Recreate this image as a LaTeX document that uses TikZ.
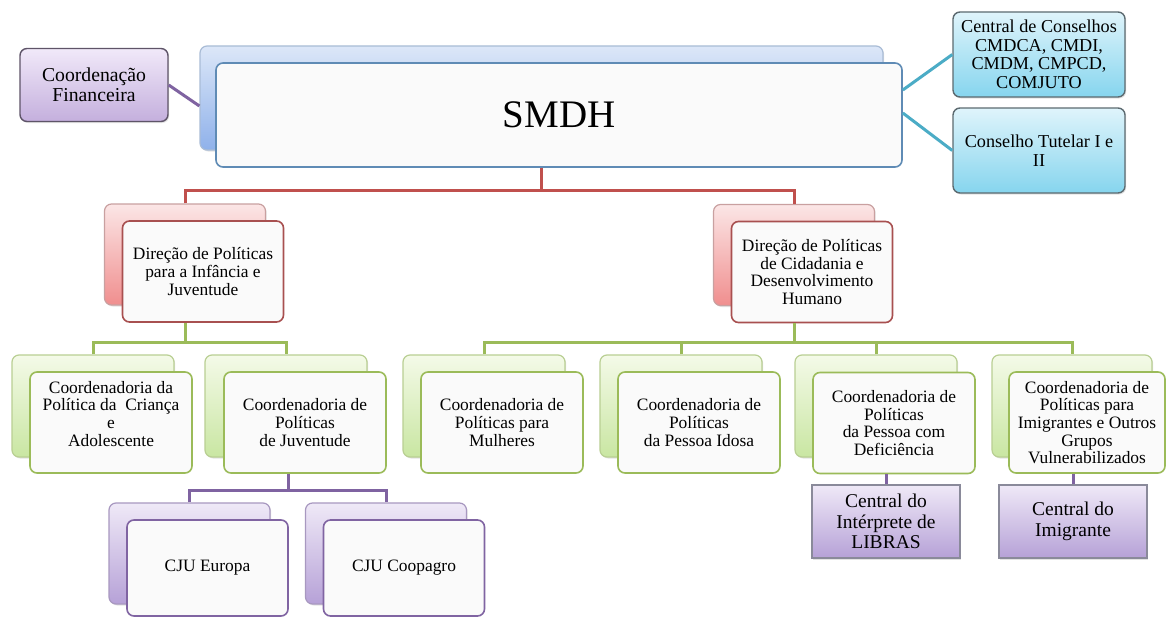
\documentclass[tikz,border=0pt]{standalone}
\usepackage{fontspec}
\setmainfont{Liberation Serif}
\newfontfamily\tnr{Liberation Serif}
\usetikzlibrary{shadows}
\definecolor{blueT}{HTML}{DCE7F8}
\definecolor{blueBt}{HTML}{8FB1EA}
\definecolor{blueBd}{HTML}{A9BCD6}
\definecolor{blueF}{HTML}{5F8BB5}
\definecolor{finT}{HTML}{F1E9F9}
\definecolor{finB}{HTML}{C4AFDD}
\definecolor{finD}{HTML}{5E5468}
\definecolor{tealT}{HTML}{DFF4FB}
\definecolor{tealB}{HTML}{86D5EE}
\definecolor{tealD}{HTML}{5C6A70}
\definecolor{tealL}{HTML}{4BACC6}
\definecolor{redT}{HTML}{FBE6E6}
\definecolor{redB}{HTML}{F08E8E}
\definecolor{redD}{HTML}{C9A0A0}
\definecolor{redF}{HTML}{A85050}
\definecolor{redL}{HTML}{C0504D}
\definecolor{grnT}{HTML}{F4FAE8}
\definecolor{grnB}{HTML}{C9E6A2}
\definecolor{grnD}{HTML}{B9CF93}
\definecolor{grnF}{HTML}{9BBB59}
\definecolor{purT}{HTML}{EFE9F7}
\definecolor{purB}{HTML}{B6A1D7}
\definecolor{purD}{HTML}{A898C0}
\definecolor{purF}{HTML}{8064A2}
\definecolor{purL}{HTML}{7F63A1}
\definecolor{boxD}{HTML}{8A8A9A}
\definecolor{frontfill}{HTML}{FAFAFA}
\begin{document}
\begin{tikzpicture}[x=1pt,y=-1pt,
  base/.style={rounded corners=7pt, line width=1.2pt, inner sep=0pt, align=center,
    font=\tnr\fontsize{17.4}{17.6}\selectfont},
  shad/.style={drop shadow={opacity=0.22, shadow xshift=1.2pt, shadow yshift=-1.5pt}},
  smdhback/.style={base, shad, draw=blueBd, top color=blueT, bottom color=blueBt,
    minimum width=683pt, minimum height=104pt},
  smdhfront/.style={base, line width=1.6pt, draw=blueF, fill=frontfill, minimum width=686pt, minimum height=104pt,
    font=\tnr\fontsize{39}{40}\selectfont},
  finbox/.style={base, line width=1.4pt, shad, draw=finD, top color=finT, bottom color=finB,
    minimum width=148pt, minimum height=73pt, font=\tnr\fontsize{19.7}{20}\selectfont},
  tealbox/.style={base, line width=1.4pt, shad, draw=tealD, top color=tealT, bottom color=tealB,
    minimum width=172pt, minimum height=85pt, font=\tnr\fontsize{18.2}{18.5}\selectfont},
  redback/.style={base, shad, draw=redD, top color=redT, bottom color=redB,
    minimum width=161pt, minimum height=101pt},
  redfront/.style={base, line width=1.6pt, draw=redF, fill=frontfill, minimum width=161pt, minimum height=101pt},
  grnback/.style={base, shad, draw=grnD, top color=grnT, bottom color=grnB,
    minimum width=162pt, minimum height=102pt},
  grnfront/.style={base, line width=1.6pt, draw=grnF, fill=frontfill, minimum width=162pt, minimum height=101pt},
  purback/.style={base, shad, draw=purD, top color=purT, bottom color=purB,
    minimum width=161pt, minimum height=101pt},
  purfront/.style={base, line width=1.6pt, draw=purF, fill=frontfill, minimum width=161pt, minimum height=96pt},
  cbox/.style={base, line width=1.4pt, rounded corners=0pt, shad, draw=boxD, top color=purT, bottom color=purB,
    minimum width=148pt, minimum height=73pt, font=\tnr\fontsize{19.5}{20.5}\selectfont},
  redline/.style={draw=redL, line width=3pt},
  grnline/.style={draw=grnF, line width=3pt},
  purline/.style={draw=purL, line width=3pt},
  tealline/.style={draw=tealL, line width=3pt},
  finline/.style={draw=purL, line width=3pt},
]
\fill[white] (0,0) rectangle (1166,618);
\useasboundingbox (0,0) rectangle (1166,618);

% bus coordinates
\coordinate (rbus) at (0,190);
\coordinate (gbus) at (0,342);
\coordinate (pbus) at (0,490);

% ---- top level ----
\node[smdhback] (smdhB) at (541.5,98) {};
\node[smdhfront] (smdhF) at (559,115) {SMDH};
\node[finbox] (fin) at (94,85) {Coordenação\\Financeira};
\node[tealbox] (cons) at (1039,54.5) {Central de Conselhos\\CMDCA, CMDI,\\CMDM, CMPCD,\\COMJUTO};
\node[tealbox] (tut) at (1039,150.5) {Conselho Tutelar I e\\II};

% ---- directions ----
\node[redback] (dirLB) at (185,254.5) {};
\node[redfront] (dirLF) at (203,271.5) {Direção de Políticas\\para a Infância e\\Juventude};
\node[redback] (dirRB) at (794,255) {};
\node[redfront] (dirRF) at (812,272) {Direção de Políticas\\de Cidadania e\\Desenvolvimento\\Humano};

% ---- coordinations ----
\node[grnback] (b1B) at (93,406) {};
\node[grnfront] (b1F) at (111,422.5) {Coordenadoria da\\Política da \ Criança\\e\\Adolescente\\\mbox{}};
\node[grnback] (b2B) at (286,406) {};
\node[grnfront] (b2F) at (305,422.5) {Coordenadoria de\\Políticas\\de Juventude};
\node[grnback] (b3B) at (484,406) {};
\node[grnfront] (b3F) at (502,422.5) {Coordenadoria de\\Políticas para\\Mulheres};
\node[grnback] (b4B) at (681,406) {};
\node[grnfront] (b4F) at (699,422.5) {Coordenadoria de\\Políticas\\da Pessoa Idosa};
\node[grnback] (b5B) at (876,406) {};
\node[grnfront] (b5F) at (894,423) {Coordenadoria de\\Políticas\\da Pessoa com\\Deficiência};
\node[grnback, minimum width=160pt] (b6B) at (1072,406) {};
\node[grnfront, minimum width=156pt] (b6F) at (1087,422.5) {Coordenadoria de\\Políticas para\\Imigrantes e Outros\\Grupos\\Vulnerabilizados};

% ---- CJU ----
\node[purback] (c1B) at (189.5,553.5) {};
\node[purfront] (c1F) at (207.5,568) {CJU Europa};
\node[purback] (c2B) at (386,553.5) {};
\node[purfront] (c2F) at (404,568) {CJU Coopagro};

% ---- centrals ----
\node[cbox] (lib) at (886,521.5) {Central do\\Intérprete de\\LIBRAS};
\node[cbox] (img) at (1073,521.5) {Central do\\Imigrante};

% ---- connectors ----
\path[finline] (fin.east) -- ([yshift=-8pt]smdhB.west);
\path[tealline] ([yshift=25pt]smdhF.east) -- (cons.west);
\path[tealline] ([yshift=2pt]smdhF.east) -- (tut.west);

\path[redline] (smdhB.center |- smdhF.south) -- (smdhB.center |- rbus);
\path[redline] (dirLB.north) -- (dirLB.north |- rbus) -- (dirRB.north |- rbus) -- (dirRB.north);

\path[grnline] (dirLB.center |- dirLF.south) -- (dirLB.center |- gbus);
\path[grnline] (b1B.north) -- (b1B.north |- gbus) -- (b2B.north |- gbus) -- (b2B.north);
\path[grnline] (dirRB.center |- dirRF.south) -- (dirRB.center |- gbus);
\path[grnline] (b3B.north) -- (b3B.north |- gbus) -- (b6B.north |- gbus) -- (b6B.north);
\path[grnline] (b4B.north) -- (b4B.north |- gbus);
\path[grnline] (b5B.north) -- (b5B.north |- gbus);

\path[purline] ([xshift=2pt]b2B.center |- b2F.south) -- ([xshift=2pt]b2B.center |- pbus);
\path[purline] (c1B.north) -- (c1B.north |- pbus) -- (c2B.north |- pbus) -- (c2B.north);

\path[purline] (lib.north) -- (lib.north |- b5F.south);
\path[purline] (img.north) -- (img.north |- b6F.south);
\end{tikzpicture}
\end{document}
